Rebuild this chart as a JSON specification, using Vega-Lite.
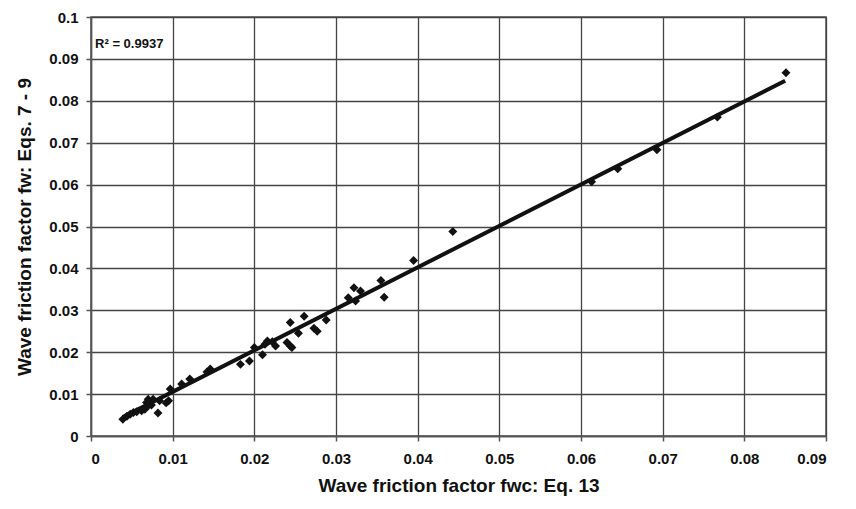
{
  "$schema": "https://vega.github.io/schema/vega-lite/v6.json",
  "autosize": {"type": "none"},
  "width": 735,
  "height": 419,
  "padding": {"left": 91, "top": 17, "right": 30, "bottom": 73},
  "background": "white",
  "config": {
    "font": "Liberation Sans",
    "view": {"stroke": "#555", "strokeWidth": 1.5},
    "axis": {
      "labelFont": "Liberation Sans", "labelFontWeight": "bold", "labelFontSize": 15, "labelColor": "#111",
      "titleFont": "Liberation Sans", "titleFontWeight": "bold", "titleFontSize": 19, "titleColor": "#111",
      "gridColor": "#444", "gridWidth": 1.3, "gridOpacity": 1,
      "domainColor": "#555", "domainWidth": 1.5,
      "tickColor": "#555", "tickWidth": 1.5, "tickSize": 5
    }
  },
  "datasets": {
    "pts": [
      {"x": 0.0039, "y": 0.0040}, {"x": 0.0044, "y": 0.0047}, {"x": 0.0048, "y": 0.0052},
      {"x": 0.0052, "y": 0.0056}, {"x": 0.0056, "y": 0.0058}, {"x": 0.0062, "y": 0.0060},
      {"x": 0.0066, "y": 0.0064}, {"x": 0.0068, "y": 0.0080}, {"x": 0.0070, "y": 0.0088},
      {"x": 0.0070, "y": 0.0072}, {"x": 0.0074, "y": 0.0074}, {"x": 0.0076, "y": 0.0088},
      {"x": 0.0082, "y": 0.0055}, {"x": 0.0084, "y": 0.0084}, {"x": 0.0092, "y": 0.0079},
      {"x": 0.0095, "y": 0.0084}, {"x": 0.0097, "y": 0.0112}, {"x": 0.0111, "y": 0.0124},
      {"x": 0.0121, "y": 0.0136}, {"x": 0.0142, "y": 0.0153}, {"x": 0.0146, "y": 0.0160},
      {"x": 0.0183, "y": 0.0171}, {"x": 0.0194, "y": 0.0179}, {"x": 0.0200, "y": 0.0211},
      {"x": 0.0210, "y": 0.0194}, {"x": 0.0213, "y": 0.0219}, {"x": 0.0216, "y": 0.0227},
      {"x": 0.0222, "y": 0.0225}, {"x": 0.0226, "y": 0.0215}, {"x": 0.0240, "y": 0.0223},
      {"x": 0.0244, "y": 0.0215}, {"x": 0.0246, "y": 0.0211}, {"x": 0.0244, "y": 0.0271},
      {"x": 0.0254, "y": 0.0245}, {"x": 0.0261, "y": 0.0286}, {"x": 0.0273, "y": 0.0257},
      {"x": 0.0277, "y": 0.0250}, {"x": 0.0288, "y": 0.0277}, {"x": 0.0315, "y": 0.0330},
      {"x": 0.0322, "y": 0.0354}, {"x": 0.0324, "y": 0.0322}, {"x": 0.0330, "y": 0.0346},
      {"x": 0.0355, "y": 0.0371}, {"x": 0.0359, "y": 0.0331}, {"x": 0.0395, "y": 0.0419},
      {"x": 0.0443, "y": 0.0488}, {"x": 0.0613, "y": 0.0607}, {"x": 0.0645, "y": 0.0638},
      {"x": 0.0693, "y": 0.0683}, {"x": 0.0767, "y": 0.0761}, {"x": 0.0851, "y": 0.0867}
    ],
    "fit": [
      {"x": 0.0039, "y": 0.0045},
      {"x": 0.0850, "y": 0.0848}
    ],
    "note": [
      {"x": 0.0005, "y": 0.0935, "label": "R² = 0.9937"}
    ]
  },
  "layer": [
    {
      "data": {"name": "pts"},
      "mark": {"type": "point", "shape": "diamond", "filled": true, "color": "#111", "size": 80, "opacity": 1},
      "encoding": {
        "x": {
          "field": "x", "type": "quantitative",
          "scale": {"domain": [0, 0.09], "nice": false, "zero": false},
          "axis": {"values": [0, 0.01, 0.02, 0.03, 0.04, 0.05, 0.06, 0.07, 0.08, 0.09], "format": "~g",
                   "labelPadding": 10, "title": "Wave friction factor fwc: Eq. 13", "titlePadding": 10}
        },
        "y": {
          "field": "y", "type": "quantitative",
          "scale": {"domain": [0, 0.1], "nice": false, "zero": false},
          "axis": {"values": [0, 0.01, 0.02, 0.03, 0.04, 0.05, 0.06, 0.07, 0.08, 0.09, 0.1], "format": "~g",
                   "labelPadding": 8, "title": "Wave friction factor fw: Eqs. 7 - 9", "titlePadding": 14}
        }
      }
    },
    {
      "data": {"name": "fit"},
      "mark": {"type": "line", "color": "#111", "strokeWidth": 4},
      "encoding": {
        "x": {"field": "x", "type": "quantitative"},
        "y": {"field": "y", "type": "quantitative"}
      }
    },
    {
      "data": {"name": "note"},
      "mark": {"type": "text", "align": "left", "baseline": "middle", "fontWeight": "bold", "fontSize": 13, "color": "#111", "font": "Liberation Sans"},
      "encoding": {
        "x": {"field": "x", "type": "quantitative"},
        "y": {"field": "y", "type": "quantitative"},
        "text": {"field": "label"}
      }
    }
  ]
}
